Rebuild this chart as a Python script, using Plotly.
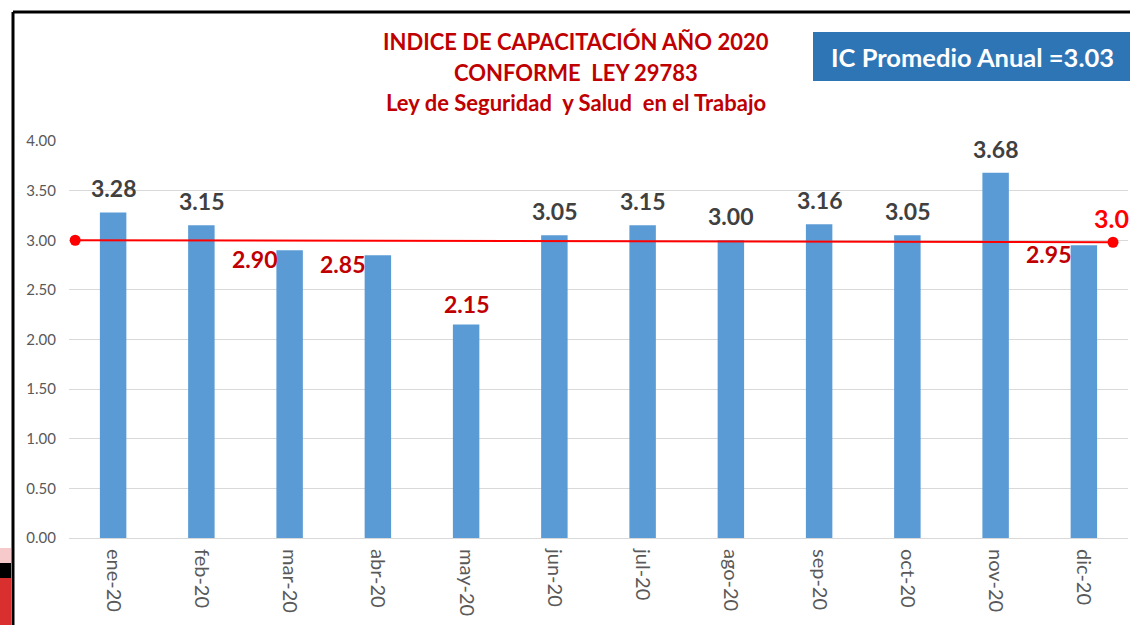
import plotly.graph_objects as go

# ---- data ----
meses = ["ene-20", "feb-20", "mar-20", "abr-20", "may-20", "jun-20",
         "jul-20", "ago-20", "sep-20", "oct-20", "nov-20", "dic-20"]
indice = [3.28, 3.15, 2.90, 2.85, 2.15, 3.05, 3.15, 3.00, 3.16, 3.05, 3.68, 2.95]
meta_linea = [3.00, 2.98]          # red reference line (start, end)
promedio_anual = 3.03
titulo = ["INDICE DE CAPACITACIÓN AÑO 2020",
          "CONFORME  LEY 29783",
          "Ley de Seguridad  y Salud  en el Trabajo"]
y_ticks = [0, 0.5, 1.0, 1.5, 2.0, 2.5, 3.0, 3.5, 4.0]

# ---- layout constants ----
W, H = 1130, 625
L, R, T, B = 69, 2, 141, 87
PW, PH = W - L - R, H - T - B

def px(xpix):
    return (xpix - L) / PW

def py(ypix):
    return (H - B - ypix) / PH

FONT = "Lato"
x_idx = list(range(len(meses)))

fig = go.Figure()
fig.add_trace(go.Bar(x=x_idx, y=indice, width=0.3,
                     marker=dict(color="#5B9BD5", line=dict(width=0)),
                     hoverinfo="y"))
fig.add_trace(go.Scatter(x=[-0.43, len(meses) - 1 + 0.33], y=meta_linea,
                         mode="lines+markers",
                         line=dict(color="#FF0000", width=2),
                         marker=dict(color="#FF0000", size=11)))

annotations = []
# data labels
for i, v in enumerate(indice):
    if v >= 3.0:
        annotations.append(dict(x=i, y=v, text=f"{v:.2f}", showarrow=False,
                                xref="x", yref="y", yanchor="bottom", yshift=8,
                                font=dict(family=FONT, size=23, color="#404040", weight="bold")))
    elif v < 2.5:
        annotations.append(dict(x=i, y=v, text=f"{v:.2f}", showarrow=False,
                                xref="x", yref="y", yanchor="bottom", yshift=5,
                                font=dict(family=FONT, size=23, color="#C00000", weight="bold")))
    else:
        annotations.append(dict(x=i, y=v, text=f"{v:.2f}", showarrow=False,
                                xref="x", yref="y", yanchor="middle",
                                xshift=-35, yshift=-9,
                                font=dict(family=FONT, size=23, color="#C00000", weight="bold")))
# label of red line at right
annotations.append(dict(x=len(meses) - 1 + 0.33, y=meta_linea[1], text=f"{promedio_anual:.2f}",
                        showarrow=False, xref="x", yref="y", xanchor="left",
                        yanchor="middle", xshift=-21, yshift=24,
                        font=dict(family=FONT, size=25, color="#FF0000", weight="bold")))
# title lines
for k, (t, yp) in enumerate(zip(titulo, [42, 72, 102])):
    annotations.append(dict(x=px(576), y=py(yp), xref="paper", yref="paper",
                            text=t, showarrow=False, xanchor="center", yanchor="middle",
                            font=dict(family=FONT, size=22, color="#C00000", weight="bold")))
# blue box text
annotations.append(dict(x=px(829), y=py(57), xref="paper", yref="paper",
                        text=f"IC Promedio Anual ={promedio_anual:.2f}", showarrow=False,
                        xanchor="left", yanchor="middle",
                        font=dict(family=FONT, size=25.5, color="white", weight="bold")))

shapes = [
    # blue box
    dict(type="rect", xref="paper", yref="paper", x0=px(813), x1=px(1140),
         y0=py(81), y1=py(32), fillcolor="#2E75B6", line=dict(width=0), layer="below"),
    # black frame
    dict(type="line", xref="paper", yref="paper", x0=px(13), x1=px(1140),
         y0=py(12), y1=py(12), line=dict(color="black", width=3)),
    dict(type="line", xref="paper", yref="paper", x0=px(13), x1=px(13),
         y0=py(12), y1=py(640), line=dict(color="black", width=3)),
    # bottom-left artifact
    dict(type="rect", xref="paper", yref="paper", x0=px(0), x1=px(11),
         y0=py(563), y1=py(548), fillcolor="#F6C9CA", line=dict(width=0)),
    dict(type="rect", xref="paper", yref="paper", x0=px(0), x1=px(11),
         y0=py(578), y1=py(563), fillcolor="black", line=dict(width=0)),
    dict(type="rect", xref="paper", yref="paper", x0=px(0), x1=px(11),
         y0=py(640), y1=py(578), fillcolor="#D9302F", line=dict(width=0)),
]

fig.update_layout(
    width=W, height=H,
    margin=dict(l=L, r=R, t=T, b=B, autoexpand=False),
    paper_bgcolor="white", plot_bgcolor="white",
    showlegend=False,
    annotations=annotations,
    shapes=shapes,
    xaxis=dict(range=[-0.5, len(meses) - 0.5], tickmode="array",
               tickvals=x_idx, ticktext=meses, tickangle=90,
               tickfont=dict(family=FONT, size=20, color="#595959"),
               showgrid=False, zeroline=False, showline=False, ticks="",
               ticklabelstandoff=10),
    yaxis=dict(range=[0, 4.0], tickmode="array", tickvals=y_ticks,
               tickformat=".2f",
               tickfont=dict(family=FONT, size=15, color="#595959"),
               showgrid=True, gridcolor="#D9D9D9", gridwidth=1,
               zeroline=True, zerolinecolor="#D9D9D9", zerolinewidth=1,
               showline=False, ticks="", ticklabelstandoff=12),
)

fig.write_html("out.html", config={"displayModeBar": False},
               post_script="document.body.style.margin='0';document.body.style.overflow='hidden';")
